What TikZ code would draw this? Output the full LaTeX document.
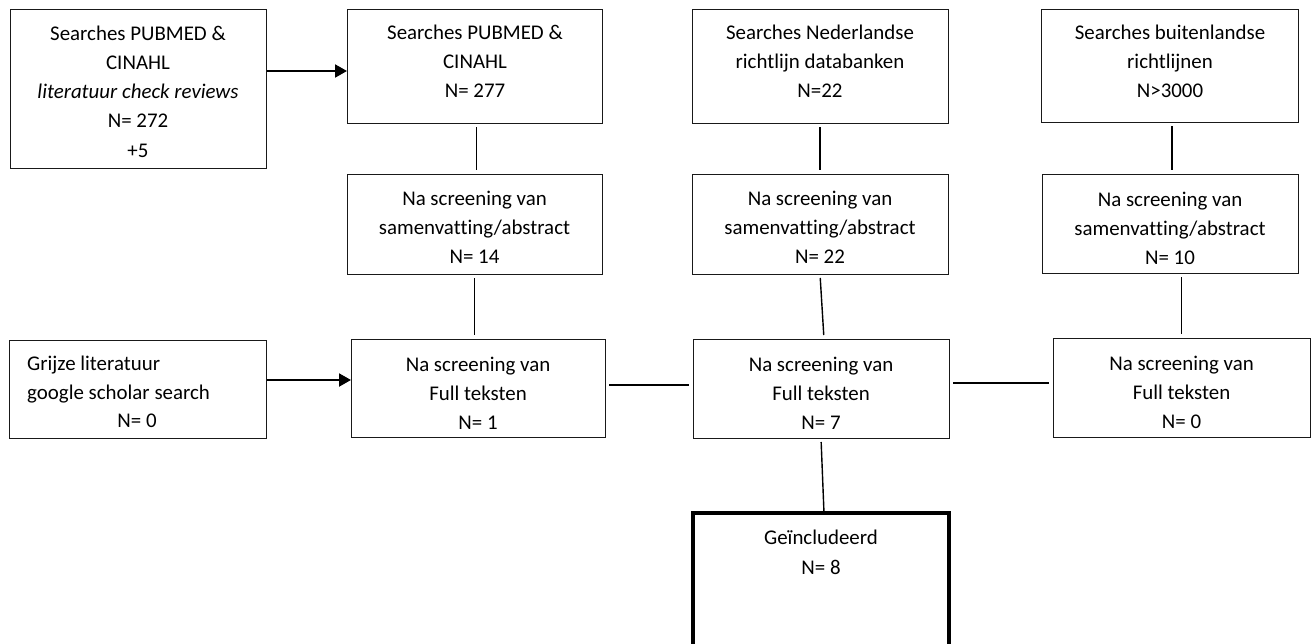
\documentclass[tikz,border=0pt]{standalone}
\usepackage{fontspec}
\setmainfont{Carlito}[Ligatures=CommonOff]
\usetikzlibrary{arrows.meta}
\newcommand\firstln{\rule{0pt}{16pt}}
\begin{document}
\begin{tikzpicture}[x=1pt,y=-1pt,
  box/.style={draw=black!90, line width=1pt, inner sep=0pt, outer sep=0pt, rectangle},
  txt/.style={anchor=north, align=center, inner sep=0pt, font=\fontsize{20.9}{29.2}\selectfont},
  txtl/.style={anchor=north west, align=left, inner sep=0pt, font=\fontsize{20.9}{29.2}\selectfont},
  conn/.style={line width=1.4pt, shorten >=4pt, shorten <=4pt},
  arr/.style={line width=2pt, shorten <=1pt, -{Triangle[length=12pt,width=13pt]}}]
\useasboundingbox (0,0) rectangle (1315,643);
\clip (0,0) rectangle (1315,643);
\fill[white] (0,0) rectangle (1315,643);

% boxes
\node[box, minimum width=256pt, minimum height=159pt] (b1) at (138,88.5) {};
\node[box, minimum width=255pt, minimum height=114pt] (b2) at (474.5,66) {};
\node[box, minimum width=256pt, minimum height=114pt] (b3) at (820,66) {};
\node[box, minimum width=257pt, minimum height=113pt] (b4) at (1169.5,65.5) {};
\node[box, minimum width=255pt, minimum height=100pt] (b5) at (474.5,224) {};
\node[box, minimum width=256pt, minimum height=100pt] (b6) at (820,224) {};
\node[box, minimum width=256pt, minimum height=99pt] (b7) at (1170,223.5) {};
\node[box, minimum width=257pt, minimum height=98pt] (b8) at (137.5,389) {};
\node[box, minimum width=254pt, minimum height=98pt] (b9) at (478,388) {};
\node[box, minimum width=256pt, minimum height=99pt] (b10) at (821,388.5) {};
\node[box, minimum width=257pt, minimum height=99pt] (b11) at (1181.5,387.5) {};
\node[box, draw=black, line width=4.5pt, minimum width=256pt, minimum height=190pt] (inc) at (821,608) {};

% texts
\node[txt] (t1) at (138,24) {\firstln Searches PUBMED \&\\CINAHL\\\textit{literatuur check reviews}\\N= 272\\+5};
\node[txt] (t2) at (475,23) {\firstln Searches PUBMED \&\\CINAHL\\N= 277};
\node[txt] (t3) at (820,23) {\firstln Searches Nederlandse\\richtlijn databanken\\N=22};
\node[txt] (t4) at (1170,23) {\firstln Searches buitenlandse\\richtlijnen\\N>3000};
\node[txt] (t5) at (474.5,189) {\firstln Na screening van\\samenvatting/abstract\\N= 14};
\node[txt] (t6) at (820,189) {\firstln Na screening van\\samenvatting/abstract\\N= 22};
\node[txt] (t7) at (1170,190) {\firstln Na screening van\\samenvatting/abstract\\N= 10};
\node[txtl] (t8) at (27,354) {\firstln Grijze literatuur\\google scholar search};
\node[anchor=base, inner sep=0pt, font=\fontsize{20.9}{29.2}\selectfont] (t8b) at (137,427) {N= 0};
\node[txt] (t9) at (478,355) {\firstln Na screening van\\Full teksten\\N= 1};
\node[txt] (t10) at (821,355) {\firstln Na screening van\\Full teksten\\N= 7};
\node[txt] (t11) at (1181.5,354) {\firstln Na screening van\\Full teksten\\N= 0};
\node[txt, font=\fontsize{20.9}{30}\selectfont] (tinc) at (821,528) {\firstln Geïncludeerd\\N= 8};

% arrows
\path ([yshift=17.5pt]b1.east) coordinate (a1);
\draw[arr] (a1) -- (a1 -| b2.west);
\path ([yshift=9pt]b8.east) coordinate (a2);
\draw[arr] (a2) -- (a2 -| b9.west);

% connectors
\draw[conn] ([xshift=2pt]b2.south) -- ([xshift=2pt]b2.south |- b5.north);
\draw[conn] (b3.south) -- (b6.north);
\draw[conn] ([xshift=2.5pt]b4.south) -- ([xshift=2.5pt]b4.south |- b7.north);
\draw[conn] (b5.south) -- (b5.south |- b9.north);
\draw[conn] (b6.south) -- ([xshift=4pt]b6.south |- b10.north);
\draw[conn] (b11.north |- b7.south) -- (b11.north);
\path ([yshift=3pt]b9.east) coordinate (h1);
\draw[conn] (h1) -- (h1 -| b10.west);
\path ([yshift=5.5pt]b10.east) coordinate (h2);
\draw[conn] (h2) -- (h2 -| b11.west);
\draw[conn, shorten >=2pt] (b10.south) -- ([xshift=3pt]inc.north);
\end{tikzpicture}
\end{document}
